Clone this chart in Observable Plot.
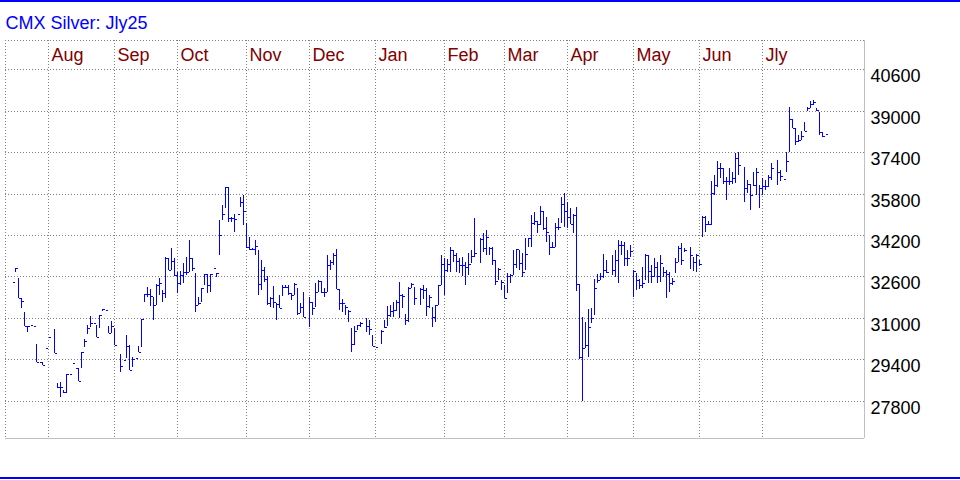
<!DOCTYPE html>
<html><head><meta charset="utf-8">
<script src="https://cdn.jsdelivr.net/npm/d3@7"></script>
<script src="https://cdn.jsdelivr.net/npm/@observablehq/plot@0.6"></script>
<style>
html,body{margin:0;padding:0;background:#fff;}
#wrap{position:relative;width:960px;height:480px;overflow:hidden;background:#fff;}
.bl{position:absolute;left:0;width:960px;height:2px;background:#0000ff;}
</style></head><body>
<div id="wrap"><div class="bl" style="top:0"></div><div class="bl" style="top:477px"></div></div>
<script>
const title = "CMX Silver: Jly25";
const monthNames = ["Aug","Sep","Oct","Nov","Dec","Jan","Feb","Mar","Apr","May","Jun","Jly"];
const monthStart = [12,34,55,78,99,121,144,164,185,207,229,250];
const yTicks = [27800,29400,31000,32600,34200,35800,37400,39000,40600];

const high = [
32372,32913,32553,31780,31214,30686,30712,30686,29978,29309,
29309,29824,30274,null,30570,28498,28536,28200,28820,28820,
29245,29051,29051,29669,30184,30725,31073,30815,30725,31111,
31330,31292,30687,30893,30597,null,29605,29374,30339,29953,
29477,29438,29914,30944,31922,32180,32103,31819,32309,32527,
32077,33364,33300,33712,33300,32785,32811,33107,33364,34008,
33326,32721,31819,32141,32682,32682,32682,32914,32720,34780,
35359,36067,36067,34900,34999,34999,35681,35746,34652,34137,
33686,34008,33622,33235,32978,32618,31820,32231,31562,31884,
32270,32270,32270,31974,32360,32141,31588,32013,null,31819,
31600,32335,32464,32438,32142,33429,33236,33493,33648,32103,
31716,31498,31305,30597,30687,30725,30854,null,30983,30918,
30339,29889,null,30550,30918,31470,31498,31626,31690,32373,
31910,31137,32206,32334,32206,null,32141,32270,32141,31884,
31433,31498,32270,33428,33300,33274,33750,33622,33493,33300,
33364,33146,33493,33622,34845,null,34072,34265,34394,33750,
33750,33236,32914,32464,32270,32721,32682,33622,33660,33622,
33493,34072,34072,34974,35102,34742,35334,35128,34909,34201,
33943,34652,34845,35681,35810,35488,35231,34999,35295,32296,
31047,30829,31343,31369,32502,32682,32721,33454,33236,null,
33415,33622,34008,33982,33943,33622,33814,32849,32721,32489,
32978,33467,33428,33042,33300,33171,33428,32978,32849,32785,
32528,33300,33776,33905,33686,null,33751,33364,33455,33236,
34948,34948,34742,36287,36518,37059,36969,36776,36454,36776,
36647,37355,37394,null,36840,36325,36158,36647,36776,36132,
36400,36325,36518,36968,null,37097,36711,36363,37393,39156,
38680,38320,38062,38217,38577,39156,39375,39414,39118,38963,
38191,38088];

const low = [
32372,32784,31780,31368,30686,30441,30712,30686,29309,29309,
29180,29824,30274,null,29630,28279,27957,28110,28110,28820,
29245,29051,28562,29051,29888,30390,30661,30815,30275,30597,
31280,31292,30429,30429,29953,null,28923,29374,29438,28987,
29090,29438,29695,29863,31626,31820,31459,30918,31498,31884,
31601,31755,32849,32849,32620,31948,32270,32334,32656,32785,
32811,31240,31498,31627,32270,31948,32012,32914,32592,33428,
34780,35231,34690,34715,34330,34999,35295,34587,33686,33622,
33622,33429,31884,32077,32399,31498,31433,31369,30918,31369,
31845,32141,31884,31691,31884,31111,31201,31047,null,30661,
31111,31433,32013,31948,31820,32013,32850,33042,32103,31305,
31240,31112,30854,29696,29953,30532,30635,null,30468,30339,
29914,29889,null,30000,30597,30690,31047,31047,31266,30983,
31369,30725,30854,32167,31498,null,31498,31730,31086,31369,
30661,30854,31498,32270,31884,32785,32785,33171,32785,32720,
32631,32270,32656,33107,33364,null,33107,33557,33429,33429,
33043,32270,32464,32077,31755,31948,32335,32656,32914,32850,
32592,32850,33750,33750,34587,34265,34587,34394,33943,33429,
33686,33750,34394,34652,34523,34458,34613,34265,32039,29412,
27790,29824,29502,30790,31111,32335,32464,32554,32721,null,
32670,32592,32334,33429,33004,33004,33364,31820,32077,32103,
32141,32463,32334,32334,32592,32334,32399,32592,31755,32013,
32270,32721,33171,33042,33557,null,32888,32811,32785,33000,
34137,34330,34587,34587,35746,36068,36390,36158,35553,36133,
36158,36197,36518,null,35463,35811,35167,36107,35746,35231,
35760,35939,36068,36325,null,36132,36286,36363,36621,37419,
38346,37677,37805,37869,38217,38989,39118,39221,38989,38062,
38000,38088];

const close = [
32372,32913,31780,31652,30686,30686,30712,30686,29309,29309,
29180,29824,30274,null,29630,28343,28343,28150,28820,28820,
29245,29051,28562,29669,30107,30622,30815,30815,30275,31111,
31330,31292,30429,30700,29953,null,29142,29374,29914,28987,
29430,29438,29695,30944,31922,31922,31845,31485,32270,32334,
31948,33300,32849,33197,32650,32334,32650,32785,32785,33326,
32914,31498,31562,32141,32682,32270,32682,32914,32720,34201,
34999,36067,34870,34870,34819,34999,35487,35141,33750,33647,
33647,33776,32309,32849,32489,31562,31755,31626,31537,31369,
32206,32206,31974,31884,32309,31176,31407,31047,null,31626,
31380,32013,32438,32013,32013,33042,33171,33429,32103,31562,
31588,31433,31279,29992,30506,30725,30790,null,30700,30558,
29914,29889,null,30500,30650,31130,31266,31305,31600,31884,
31858,30918,32167,32296,31781,null,32103,32064,31459,31820,
31047,31498,32270,33068,32849,33068,33622,33429,33197,33050,
33043,32978,33068,33403,33493,null,34047,33686,34137,33686,
33236,32425,32888,32399,31755,32631,32656,33068,33660,33107,
32785,33455,34072,34652,34742,34613,35128,34484,34330,33750,
33750,34523,34523,35386,35128,34909,34613,34974,32296,29502,
29850,29953,30661,31008,32142,32464,32631,32849,32760,null,
32830,33236,33814,33814,33300,33300,33596,32824,32463,32270,
32334,33428,32824,32618,32952,32618,33133,32785,32682,32360,
32438,33145,33686,33236,33622,null,33429,33146,33429,33069,
34910,34613,34613,35811,36132,36776,36776,36287,36287,36287,
36416,37188,36905,null,36004,36158,35746,36132,36621,36029,
36100,36106,36454,36801,null,36647,36492,36363,37058,38680,
38346,37831,37870,38037,38217,39118,39247,39324,39028,38191,
38037,38088];

const bars = high.map((h, i) => ({i, high: h, low: low[i], close: close[i]})).filter(d => d.high != null);
const months = monthNames.map((m, k) => ({m, i: monthStart[k]}));

const xDomain = [-7/3, 284];
const yDomain = [26361, 41732];
const blue = "#0000ff";
const grid = "#808080";
const closeTick = {draw(ctx) { ctx.moveTo(0, 0); ctx.lineTo(2.5, 0); }};

const chart = Plot.plot({
  width: 960, height: 480,
  marginLeft: 5, marginRight: 96, marginTop: 40, marginBottom: 42,
  style: {fontFamily: '"Liberation Sans", Arial, Helvetica, sans-serif', fontSize: "18px", background: "transparent", overflow: "visible"},
  x: {domain: xDomain, round: true, axis: null},
  y: {domain: yDomain, round: true, axis: null},
  marks: [
    Plot.ruleY(yTicks, {stroke: grid, strokeDasharray: "1,2", shapeRendering: "crispEdges"}),
    Plot.ruleX(months, {x: "i", stroke: grid, strokeDasharray: "1,2", shapeRendering: "crispEdges"}),
    Plot.ruleX([xDomain[0]], {stroke: grid, strokeDasharray: "1,2", shapeRendering: "crispEdges"}),
    Plot.ruleY([yDomain[1]], {stroke: grid, strokeDasharray: "1,2", shapeRendering: "crispEdges"}),
    Plot.ruleX([xDomain[1]], {stroke: "#c0c0c0", shapeRendering: "crispEdges"}),
    Plot.ruleY([yDomain[0]], {stroke: "#c0c0c0", shapeRendering: "crispEdges"}),
    Plot.ruleX(bars, {x: "i", y1: "low", y2: "high", stroke: blue, strokeWidth: 1, shapeRendering: "crispEdges"}),
    Plot.dot(bars, {x: "i", y: "close", symbol: closeTick, fill: "none", stroke: blue, strokeWidth: 1, shapeRendering: "crispEdges"}),
    Plot.text(months, {x: "i", text: "m", frameAnchor: "top", dy: 20, dx: 3, textAnchor: "start", lineAnchor: "bottom", fill: "#800000"}),
    Plot.text([title], {frameAnchor: "top-left", dy: -12, textAnchor: "start", lineAnchor: "bottom", fill: blue}),
    Plot.axisY({ticks: yTicks, anchor: "right", tickSize: 0, tickPadding: 6, dy: 7, tickFormat: d => `${d}`, fill: "black"})
  ]
});
chart.style.position = "absolute";
chart.style.left = "0px";
chart.style.top = "0px";
document.getElementById("wrap").prepend(chart);
</script>
</body></html>
